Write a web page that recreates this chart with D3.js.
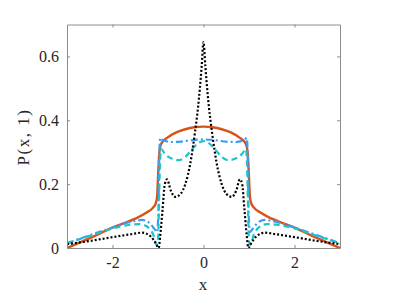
<!DOCTYPE html>
<html><head><meta charset="utf-8">
<script src="https://cdn.jsdelivr.net/npm/d3@7"></script>
<style>body{margin:0;background:#fff}svg{display:block}</style>
</head><body><svg id="c" width="407" height="296"></svg>
<script>
// half-profile x values (>=0); curves are symmetric in x
const xTicks = [-2, 0, 2];
const yTicks = [0, 0.2, 0.4, 0.6];
const orangeX = [0, 0.2, 0.4, 0.6, 0.8, 0.9, 0.95, 0.98, 1.0, 1.02, 1.05, 1.1, 1.25, 1.5, 2.0, 2.5, 3.0];
const orangeY = [0.38, 0.378, 0.372, 0.362, 0.345, 0.333, 0.318, 0.28, 0.22, 0.16, 0.14, 0.128, 0.111, 0.092, 0.064, 0.031, 0.0];
const blueX = [0, 0.3, 0.5, 0.7, 0.9, 0.95, 0.97, 0.99, 1.02, 1.08, 1.2, 1.35, 1.5, 2.0, 2.5, 3.0];
const blueY = [0.340, 0.337, 0.333, 0.332, 0.338, 0.345, 0.30, 0.12, 0.05, 0.06, 0.08, 0.088, 0.085, 0.064, 0.04, 0.014];
const cyanX = [0, 0.1, 0.25, 0.4, 0.55, 0.7, 0.85, 0.93, 0.96, 0.98, 1.0, 1.03, 1.1, 1.25, 1.4, 1.6, 2.0, 2.5, 3.0];
const cyanY = [0.335, 0.33, 0.31, 0.285, 0.275, 0.28, 0.295, 0.31, 0.25, 0.12, 0.02, 0.01, 0.04, 0.068, 0.075, 0.073, 0.061, 0.038, 0.015];
const blackX = [0, 0.04, 0.08, 0.12, 0.19, 0.29, 0.4, 0.5, 0.62, 0.72, 0.8, 0.85, 0.9, 0.95, 0.985, 1.05, 1.15, 1.35, 1.6, 2.0, 2.5, 3.0];
const blackY = [0.645, 0.57, 0.5, 0.44, 0.36, 0.265, 0.2, 0.17, 0.16, 0.18, 0.215, 0.2, 0.12, 0.04, 0.0, 0.015, 0.035, 0.048, 0.043, 0.034, 0.022, 0.012];

function full(xs, ys) {
  const pts = [];
  for (let i = xs.length - 1; i > 0; i--) pts.push([-xs[i], ys[i]]);
  for (let i = 0; i < xs.length; i++) pts.push([xs[i], ys[i]]);
  return pts;
}

const m = {l: 67, r: 340, t: 24.5, b: 248};
const svg = d3.select('#c');
const x = d3.scaleLinear().domain([-3, 3]).range([m.l, m.r]);
const y = d3.scaleLinear().domain([0, 0.7]).range([m.b, m.t]);

svg.append('defs').append('clipPath').attr('id', 'clip')
  .append('rect').attr('x', m.l).attr('y', m.t - 2).attr('width', m.r - m.l).attr('height', m.b - m.t + 3);

const line = d3.line().x(d => x(d[0])).y(d => y(d[1])).curve(d3.curveMonotoneX);
const g = svg.append('g').attr('clip-path', 'url(#clip)');
const series = [
  {xs: orangeX, ys: orangeY, c: '#D95319', dash: null, w: 2.4},
  {xs: blueX, ys: blueY, c: '#3C9BFA', dash: '7,3,2,3', w: 2.2},
  {xs: cyanX, ys: cyanY, c: '#1CC3C8', dash: '6,4', w: 2.2},
  {xs: blackX, ys: blackY, c: '#000000', dash: '2,2', w: 2.2},
];
series.forEach(s => {
  g.append('path').datum(full(s.xs, s.ys)).attr('d', line)
    .attr('fill', 'none').attr('stroke', s.c).attr('stroke-width', s.w)
    .attr('stroke-dasharray', s.dash);
});

const axc = '#8c8c8c';
const font = '"Liberation Serif", "DejaVu Serif", serif';
const ax = svg.append('g');
ax.append('g').attr('transform', `translate(0,${m.b})`)
  .call(d3.axisBottom(x).tickValues(xTicks).tickSizeInner(-3).tickSizeOuter(0).tickPadding(9).tickFormat(d => d < 0 ? '-' + Math.abs(d) : d));
ax.append('g').attr('transform', `translate(0,${m.t})`)
  .call(d3.axisTop(x).tickValues(xTicks).tickSizeInner(-3).tickSizeOuter(0).tickFormat(''));
ax.append('g').attr('transform', `translate(${m.l},0)`)
  .call(d3.axisLeft(y).tickValues(yTicks).tickSizeInner(-3).tickSizeOuter(0).tickPadding(8).tickFormat(d => d === 0 ? '0' : d3.format('.1f')(d)));
ax.append('g').attr('transform', `translate(${m.r},0)`)
  .call(d3.axisRight(y).tickValues(yTicks).tickSizeInner(-3).tickSizeOuter(0).tickFormat(''));
ax.selectAll('.domain').attr('stroke', axc);
ax.selectAll('.tick line').attr('stroke', axc);
ax.selectAll('text').attr('fill', '#262626').style('font-family', font).style('font-size', '16px');

svg.append('text').attr('x', 203).attr('y', 290).attr('text-anchor', 'middle')
  .style('font-family', font).style('font-size', '17px').attr('fill', '#262626').text('x');
svg.append('text').attr('transform', 'translate(29,137) rotate(-90)').attr('text-anchor', 'middle')
  .style('font-family', font).style('font-size', '17px').attr('fill', '#262626').style('letter-spacing', '1.5px').text('P(x, 1)');
</script></body></html>
